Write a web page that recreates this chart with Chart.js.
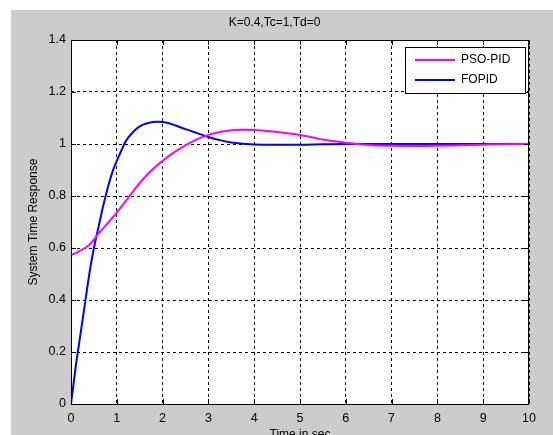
<!DOCTYPE html>
<html>
<head>
<meta charset="utf-8">
<script src="https://cdn.jsdelivr.net/npm/chart.js@4.4.1/dist/chart.umd.min.js"></script>
<style>
  html, body { margin: 0; padding: 0; background: #fff; overflow: hidden; }
  canvas { display: block; }
</style>
</head>
<body>
<canvas id="chart" width="553" height="450"></canvas>
<script>
// step response data
const psoTime   = [0, 0, 0.2, 0.4, 0.6, 0.8, 1.0, 1.25, 1.5, 1.75, 2.0, 2.25, 2.5, 2.75, 3.0, 3.25, 3.5, 3.75, 4.0, 4.5, 5.0, 5.5, 6.0, 6.5, 7.0, 7.5, 8.0, 8.5, 9.0, 9.5, 10];
const psoValues = [0, 0.575, 0.59, 0.612, 0.655, 0.695, 0.736, 0.793, 0.85, 0.897, 0.935, 0.968, 0.995, 1.018, 1.035, 1.046, 1.053, 1.055, 1.054, 1.046, 1.035, 1.017, 1.005, 0.996, 0.993, 0.992, 0.993, 0.995, 0.997, 0.999, 1.0];

const fopidTime   = [0, 0.05, 0.1, 0.2, 0.3, 0.4, 0.5, 0.6, 0.7, 0.8, 0.9, 1.0, 1.1, 1.2, 1.35, 1.5, 1.7, 1.9, 2.1, 2.3, 2.5, 2.75, 3.0, 3.25, 3.5, 4.0, 4.5, 5.0, 5.5, 6.0, 7, 8, 9, 10];
const fopidValues = [0, 0.07, 0.14, 0.26, 0.38, 0.5, 0.6, 0.68, 0.76, 0.83, 0.89, 0.935, 0.975, 1.012, 1.045, 1.068, 1.082, 1.086, 1.082, 1.07, 1.057, 1.042, 1.027, 1.015, 1.006, 0.998, 0.997, 0.997, 0.999, 1.0, 1.0, 1.0, 1.0, 1.0];

const xTickLabels = ['0', '1', '2', '3', '4', '5', '6', '7', '8', '9', '10'];
const yTickLabels = ['0', '0.2', '0.4', '0.6', '0.8', '1', '1.2', '1.4'];

const seriesNames = ['PSO-PID', 'FOPID'];

const FONT = 'Arial, "Liberation Sans", sans-serif';

const toPoints = (ts, vs) => ts.map((t, i) => ({ x: t, y: vs[i] }));

// matlab-ish figure background, box, inward ticks and legend
const figurePlugin = {
  id: 'figure',
  beforeDraw(chart) {
    const { ctx, chartArea: a } = chart;
    ctx.save();
    ctx.fillStyle = '#cccccc';
    ctx.fillRect(11, 10, chart.width - 11, chart.height - 10);
    ctx.fillStyle = '#ffffff';
    ctx.fillRect(a.left, a.top, a.right - a.left, a.bottom - a.top);
    ctx.restore();
  },
  afterDraw(chart) {
    const { ctx, chartArea: a, scales } = chart;
    ctx.save();
    ctx.setLineDash([]);
    ctx.strokeStyle = '#000';
    ctx.lineWidth = 1;
    ctx.strokeRect(a.left + 0.5, a.top + 0.5, a.right - a.left - 1, a.bottom - a.top);

    // inward tick marks
    ctx.beginPath();
    scales.x.ticks.forEach(t => {
      const px = Math.round(scales.x.getPixelForValue(t.value)) + 0.5;
      ctx.moveTo(px, a.bottom); ctx.lineTo(px, a.bottom - 5);
      ctx.moveTo(px, a.top); ctx.lineTo(px, a.top + 5);
    });
    scales.y.ticks.forEach(t => {
      const py = Math.round(scales.y.getPixelForValue(t.value)) + 0.5;
      ctx.moveTo(a.left, py); ctx.lineTo(a.left + 5, py);
      ctx.moveTo(a.right, py); ctx.lineTo(a.right - 5, py);
    });
    ctx.stroke();

    // legend box
    const bx = a.right - 124, by = a.top + 7, bw = 120, bh = 46;
    ctx.fillStyle = '#fff';
    ctx.fillRect(bx, by, bw, bh);
    ctx.strokeRect(bx + 0.5, by + 0.5, bw, bh);
    ctx.font = '12px ' + FONT;
    ctx.textBaseline = 'middle';
    chart.data.datasets.forEach((ds, i) => {
      const y = by + 13 + i * 20;
      ctx.strokeStyle = ds.borderColor;
      ctx.lineWidth = 2;
      ctx.beginPath();
      ctx.moveTo(bx + 10, y);
      ctx.lineTo(bx + 50, y);
      ctx.stroke();
      ctx.fillStyle = '#000';
      ctx.fillText(ds.label, bx + 56, y);
    });
    ctx.restore();
  }
};

new Chart(document.getElementById('chart'), {
  type: 'line',
  data: {
    datasets: [
      {
        label: seriesNames[0],
        data: toPoints(psoTime, psoValues),
        borderColor: '#ff00ff',
        borderWidth: 2,
        pointRadius: 0,
        cubicInterpolationMode: 'monotone',
        fill: false
      },
      {
        label: seriesNames[1],
        data: toPoints(fopidTime, fopidValues),
        borderColor: '#0000ff',
        borderWidth: 2,
        pointRadius: 0,
        cubicInterpolationMode: 'monotone',
        fill: false
      }
    ]
  },
  options: {
    responsive: false,
    animation: false,
    layout: { padding: { left: 20, right: 24, top: 0, bottom: 0 } },
    plugins: {
      legend: { display: false },
      tooltip: { enabled: false },
      title: {
        display: true,
        text: 'K=0.4,Tc=1,Td=0',
        color: '#000',
        font: { family: FONT, size: 12, weight: 'normal' },
        padding: { top: 15, bottom: 10.6 }
      }
    },
    scales: {
      x: {
        type: 'linear',
        min: 0,
        max: 10,
        ticks: {
          stepSize: 1,
          padding: 7,
          color: '#000',
          font: { family: FONT, size: 12.5 },
          maxRotation: 0,
          callback: (v, i) => xTickLabels[i]
        },
        grid: { color: '#000', lineWidth: 1, drawTicks: false },
        border: { display: false, dash: [3, 3] },
        title: {
          display: true,
          text: 'Time in sec',
          color: '#000',
          font: { family: FONT, size: 12 },
          padding: { top: 0, bottom: 8 }
        },
        afterFit: s => { s.height = 46; }
      },
      y: {
        min: 0,
        max: 1.4,
        ticks: {
          stepSize: 0.2,
          padding: 5,
          color: '#000',
          font: { family: FONT, size: 12.5 },
          callback: (v, i) => yTickLabels[i]
        },
        grid: { color: '#000', lineWidth: 1, drawTicks: false },
        border: { display: false, dash: [3, 3] },
        title: {
          display: true,
          text: 'System Time Response',
          color: '#000',
          font: { family: FONT, size: 12 },
          padding: { top: 6, bottom: 0 }
        },
        afterFit: s => { s.width = 51; }
      }
    }
  },
  plugins: [figurePlugin]
});
</script>
</body>
</html>
